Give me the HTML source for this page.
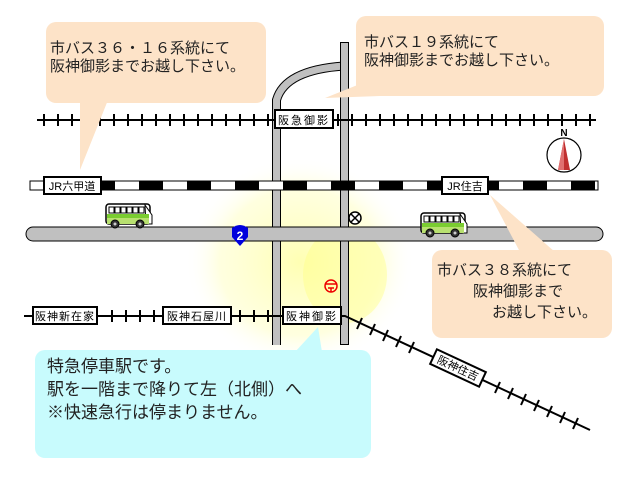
<!DOCTYPE html>
<html><head><meta charset="utf-8"><style>
html,body{margin:0;padding:0;background:#fff;width:640px;height:480px;overflow:hidden}
svg text{font-family:"Liberation Sans","Noto Sans CJK JP",sans-serif}
</style></head><body>
<svg width="640" height="480" viewBox="0 0 640 480" xmlns="http://www.w3.org/2000/svg">
<defs>
<radialGradient id="glow" cx="0.5" cy="0.5" r="0.5">
<stop offset="0" stop-color="#ffffa0" stop-opacity="0.8"/>
<stop offset="0.7" stop-color="#ffffc0" stop-opacity="0.5"/>
<stop offset="1" stop-color="#ffffff" stop-opacity="0"/>
</radialGradient>
<g id="bus">
<rect x="1" y="1" width="44" height="20" rx="3" fill="#fff" stroke="#000" stroke-width="1.5"/>
<path d="M40 2 L47 12 L47 21 L41 21 Z" fill="#fff" stroke="#000"/>
<rect x="2" y="11" width="42" height="4" fill="#7acc30"/>
<rect x="2" y="15" width="42" height="6" fill="#b8e070"/>
<g fill="#fff" stroke="#000"><rect x="4" y="4" width="5" height="6"/><rect x="10" y="4" width="5" height="6"/><rect x="16" y="4" width="5" height="6"/><rect x="22" y="4" width="5" height="6"/><rect x="28" y="4" width="5" height="6"/><rect x="34" y="4" width="5" height="6"/></g>
<circle cx="10" cy="21" r="4" fill="#333" stroke="#000"/><circle cx="10" cy="21" r="1.5" fill="#ccc"/>
<circle cx="35" cy="21" r="4" fill="#333" stroke="#000"/><circle cx="35" cy="21" r="1.5" fill="#ccc"/>
</g>
</defs>
<ellipse cx="300" cy="262" rx="115" ry="105" fill="url(#glow)"/>
<ellipse cx="345" cy="275" rx="42" ry="48" fill="#ffff88" opacity="0.45"/>

<path d="M276.5 345 L276.5 100 Q285 70 344 66" fill="none" stroke="#000" stroke-width="9"/>
<path d="M276.5 345 L276.5 100 Q285 70 344 66" fill="none" stroke="#c0c0c0" stroke-width="7"/>
<line x1="344.5" y1="42" x2="344.5" y2="345" stroke="#000" stroke-width="9"/>
<line x1="344.5" y1="43" x2="344.5" y2="344" stroke="#c0c0c0" stroke-width="7"/>
<rect x="26" y="227" width="577" height="14" rx="7" fill="#c0c0c0" stroke="#000"/>
<rect x="273" y="228" width="7" height="12" fill="#c0c0c0"/>
<rect x="341" y="228" width="7" height="12" fill="#c0c0c0"/>

<line x1="37" y1="120" x2="596" y2="120" stroke="#000" stroke-width="2"/>
<g stroke="#000" stroke-width="2">
<line x1="44" y1="114" x2="44" y2="126"/><line x1="58" y1="114" x2="58" y2="126"/><line x1="72" y1="114" x2="72" y2="126"/><line x1="86" y1="114" x2="86" y2="126"/><line x1="100" y1="114" x2="100" y2="126"/><line x1="114" y1="114" x2="114" y2="126"/><line x1="128" y1="114" x2="128" y2="126"/><line x1="142" y1="114" x2="142" y2="126"/><line x1="156" y1="114" x2="156" y2="126"/><line x1="170" y1="114" x2="170" y2="126"/><line x1="184" y1="114" x2="184" y2="126"/><line x1="198" y1="114" x2="198" y2="126"/><line x1="212" y1="114" x2="212" y2="126"/><line x1="226" y1="114" x2="226" y2="126"/><line x1="240" y1="114" x2="240" y2="126"/><line x1="254" y1="114" x2="254" y2="126"/><line x1="268" y1="114" x2="268" y2="126"/>
<line x1="338" y1="114" x2="338" y2="126"/><line x1="352" y1="114" x2="352" y2="126"/><line x1="366" y1="114" x2="366" y2="126"/><line x1="380" y1="114" x2="380" y2="126"/><line x1="394" y1="114" x2="394" y2="126"/><line x1="408" y1="114" x2="408" y2="126"/><line x1="422" y1="114" x2="422" y2="126"/><line x1="436" y1="114" x2="436" y2="126"/><line x1="450" y1="114" x2="450" y2="126"/><line x1="464" y1="114" x2="464" y2="126"/><line x1="478" y1="114" x2="478" y2="126"/><line x1="492" y1="114" x2="492" y2="126"/><line x1="506" y1="114" x2="506" y2="126"/><line x1="520" y1="114" x2="520" y2="126"/><line x1="534" y1="114" x2="534" y2="126"/><line x1="548" y1="114" x2="548" y2="126"/><line x1="562" y1="114" x2="562" y2="126"/><line x1="576" y1="114" x2="576" y2="126"/><line x1="590" y1="114" x2="590" y2="126"/>
</g>
<rect x="275" y="110" width="58" height="18" fill="#fff" stroke="#000" stroke-width="2"/>
<text x="304" y="124" font-size="11" text-anchor="middle" letter-spacing="2">阪急御影</text>

<rect x="30" y="181" width="568" height="9" fill="#fff" stroke="#000" stroke-width="1"/>
<g fill="#000">
<rect x="101" y="181" width="14" height="9"/><rect x="139" y="181" width="24" height="9"/><rect x="187" y="181" width="24" height="9"/><rect x="235" y="181" width="24" height="9"/><rect x="283" y="181" width="24" height="9"/><rect x="331" y="181" width="24" height="9"/><rect x="379" y="181" width="24" height="9"/><rect x="427" y="181" width="24" height="9"/><rect x="475" y="181" width="24" height="9"/><rect x="523" y="181" width="24" height="9"/><rect x="571" y="181" width="24" height="9"/>
</g>
<rect x="44" y="177" width="57" height="17" fill="#fff" stroke="#000" stroke-width="2"/>
<text x="72" y="190" font-size="11" text-anchor="middle">JR六甲道</text>
<rect x="442" y="177" width="46" height="17" fill="#fff" stroke="#000" stroke-width="2"/>
<text x="465" y="190" font-size="11" text-anchor="middle">JR住吉</text>

<path d="M24 316 L345 316 L590 430" fill="none" stroke="#000" stroke-width="2"/>
<g stroke="#000" stroke-width="2">
<line x1="112" y1="310" x2="112" y2="322"/><line x1="126" y1="310" x2="126" y2="322"/><line x1="140" y1="310" x2="140" y2="322"/><line x1="154" y1="310" x2="154" y2="322"/>
<line x1="240" y1="310" x2="240" y2="322"/><line x1="254" y1="310" x2="254" y2="322"/><line x1="268" y1="310" x2="268" y2="322"/>
<line x1="362" y1="318" x2="357" y2="329"/><line x1="375" y1="324" x2="370" y2="335"/><line x1="388" y1="330" x2="383" y2="341"/><line x1="401" y1="336" x2="396" y2="347"/><line x1="414" y1="342" x2="409" y2="353"/>
<line x1="500" y1="382" x2="495" y2="393"/><line x1="513" y1="388" x2="508" y2="399"/><line x1="526" y1="394" x2="521" y2="405"/><line x1="539" y1="400" x2="534" y2="411"/><line x1="552" y1="406" x2="547" y2="417"/><line x1="565" y1="412" x2="560" y2="423"/><line x1="578" y1="418" x2="573" y2="429"/>
</g>
<rect x="33" y="307" width="64" height="17" fill="#fff" stroke="#000" stroke-width="2"/>
<text x="65" y="320" font-size="11" text-anchor="middle" letter-spacing="1">阪神新在家</text>
<rect x="163" y="307" width="68" height="17" fill="#fff" stroke="#000" stroke-width="2"/>
<text x="197" y="320" font-size="11" text-anchor="middle" letter-spacing="1">阪神石屋川</text>
<rect x="283" y="307" width="58" height="17" fill="#fff" stroke="#000" stroke-width="2"/>
<text x="312" y="320" font-size="11" text-anchor="middle" letter-spacing="2">阪神御影</text>
<g transform="translate(458,368) rotate(25)">
<rect x="-27" y="-8" width="54" height="16" fill="#fff" stroke="#000" stroke-width="2"/>
<text x="0" y="4" font-size="11" text-anchor="middle">阪神住吉</text>
</g>

<use href="#bus" x="105" y="203"/>
<use href="#bus" x="420" y="212"/>
<path d="M232 228 Q240 222 248 228 L248 237 L240 246 L232 237 Z" fill="#0000dd"/>
<text x="240" y="240" font-size="12" fill="#fff" font-weight="bold" text-anchor="middle">2</text>
<circle cx="355" cy="218" r="6" fill="#fff" stroke="#000" stroke-width="1.5"/>
<path d="M351 214 L359 222 M359 214 L351 222" stroke="#000" stroke-width="1.5"/>
<circle cx="331" cy="286" r="6" fill="none" stroke="#e00" stroke-width="1.5"/>
<path d="M325 284 L337 284 M328 288 L334 288 M331 288 L331 292" stroke="#e00" stroke-width="1.5"/>
<circle cx="564" cy="155" r="17" fill="#fff" stroke="#000" stroke-width="1.2"/>
<path d="M564 139 L570 170 L558 170 Z" fill="#c03030"/>
<path d="M564 139 L564 170 L558 170 Z" fill="#e07070"/>
<text x="564" y="136" font-size="10" font-weight="bold" text-anchor="middle">N</text>

<g fill="#fde3c8">
<rect x="46" y="22" width="220" height="81" rx="10"/>
<path d="M80 100 L108 100 L80 170 Z"/>
<rect x="356" y="16" width="248" height="80" rx="10"/>
<path d="M370 80 L380 96 L325 98 Z"/>
<rect x="432" y="250" width="180" height="88" rx="10"/>
<path d="M490 195 L555 252 L520 252 Z"/>
</g>
<g fill="#c8fbfd">
<rect x="35" y="350" width="336" height="108" rx="10"/>
<path d="M295 352 L318 327 L322 352 Z"/>
</g>
<g font-size="15" fill="#222">
<text x="50" y="53">市バス３６・１６系統にて</text>
<text x="50" y="71">阪神御影までお越し下さい。</text>
<text x="364" y="47">市バス１９系統にて</text>
<text x="364" y="65">阪神御影までお越し下さい。</text>
<text x="437" y="275">市バス３８系統にて</text>
<text x="473" y="296">阪神御影まで</text>
<text x="492" y="317">お越し下さい。</text>
</g>
<g font-size="17" fill="#222">
<text x="47" y="372">特急停車駅です。</text>
<text x="47" y="395">駅を一階まで降りて左（北側）へ</text>
<text x="47" y="418">※快速急行は停まりません。</text>
</g>
</svg>
</body></html>
